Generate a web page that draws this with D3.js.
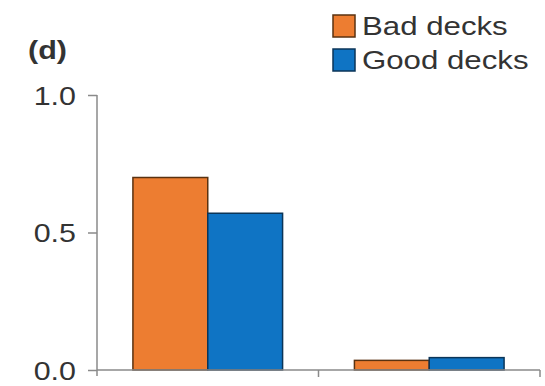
<!DOCTYPE html>
<html>
<head>
<meta charset="utf-8">
<script src="https://cdn.jsdelivr.net/npm/d3@7"></script>
<style>
  body { margin: 0; background: #fff; }
  text { font-family: 'Liberation Sans', Arial, sans-serif; fill: #333; }
</style>
</head>
<body>
<div id="main"></div>
<script>
var groups = ['g1', 'g2']
var series = ['Bad decks', 'Good decks']
var bad_values = [0.70, 0.035]
var good_values = [0.57, 0.045]
var y_ticks = [0, 0.5, 1.0]
var colors = ['#ED7D31', '#0F74C4']
var strokes = ['#5a3210', '#0b3558']

var w = 545
var h = 386
var svg = d3.select('div#main').append('svg')
  .attr('width', w)
  .attr('height', h)

var left = 97
var right = 540
var top_y = 95
var bottom = 370

// the source lettering is a bit wider than Liberation Sans
function widen (sel, k) {
  sel.each(function () {
    var len = this.getComputedTextLength()
    d3.select(this).attr('textLength', len * k).attr('lengthAdjust', 'spacingAndGlyphs')
  })
}

var x0 = d3.scaleBand().domain(groups).range([left, right]).paddingInner(0).paddingOuter(0)
var x1 = d3.scaleBand().domain(series).range([0, x0.bandwidth()]).paddingInner(0).paddingOuter(0.48)
var y = d3.scaleLinear().domain([0, 1]).range([bottom, top_y])

var rows = groups.map(function (g, i) {
  return { g: g, vals: [bad_values[i], good_values[i]] }
})

rows.forEach(function (r) {
  r.vals.forEach(function (v, j) {
    svg.append('rect')
      .attr('x', x0(r.g) + x1(series[j]))
      .attr('y', y(v))
      .attr('width', x1.bandwidth())
      .attr('height', y(0) - y(v))
      .attr('fill', colors[j])
      .attr('stroke', strokes[j])
      .attr('stroke-width', 1.5)
  })
})

// y axis
var yAxis = d3.axisLeft(y).tickValues(y_ticks).tickFormat(d3.format('.1f')).tickSize(9).tickPadding(12)
var gy = svg.append('g').attr('transform', 'translate(' + left + ',0)').call(yAxis)
gy.attr('font-family', null)
gy.select('.domain').attr('stroke', '#8a8a8a').attr('stroke-width', 1.5)
  .attr('d', 'M0,' + top_y + 'V' + (bottom + 6))
gy.selectAll('.tick line').attr('stroke', '#8a8a8a').attr('stroke-width', 1.5)
gy.selectAll('.tick text').style('font-size', '26px').attr('fill', '#383838').attr('dy', '0.36em')
widen(gy.selectAll('.tick text'), 1.17)

// x axis
var xAxis = d3.axisBottom(x0).tickValues([]).tickSizeOuter(0)
var gx = svg.append('g').attr('transform', 'translate(0,' + bottom + ')').call(xAxis)
gx.select('.domain').attr('stroke', '#8a8a8a').attr('stroke-width', 1.5)
  .attr('d', 'M' + left + ',0H' + right)
var boundaries = [x0('g2'), right]
boundaries.forEach(function (bx) {
  gx.append('line').attr('x1', bx).attr('x2', bx).attr('y1', 0).attr('y2', 7)
    .attr('stroke', '#8a8a8a').attr('stroke-width', 1.5)
})

// panel label
var lab = svg.append('text').attr('x', 28).attr('y', 59).text('(d)')
  .style('font-size', '25px').style('font-weight', 'bold')
widen(lab, 1.22)

// legend
var lg = svg.append('g').attr('transform', 'translate(333,15)')
series.forEach(function (s, i) {
  lg.append('rect').attr('x', 0).attr('y', i * 34).attr('width', 22).attr('height', 22)
    .attr('fill', colors[i]).attr('stroke', strokes[i]).attr('stroke-width', 1.5)
  var t = lg.append('text').attr('x', 29).attr('y', i * 34 + 11).attr('dy', '0.36em')
    .text(s).style('font-size', '26px').attr('fill', '#383838')
  widen(t, 1.2)
})
</script>
</body>
</html>
